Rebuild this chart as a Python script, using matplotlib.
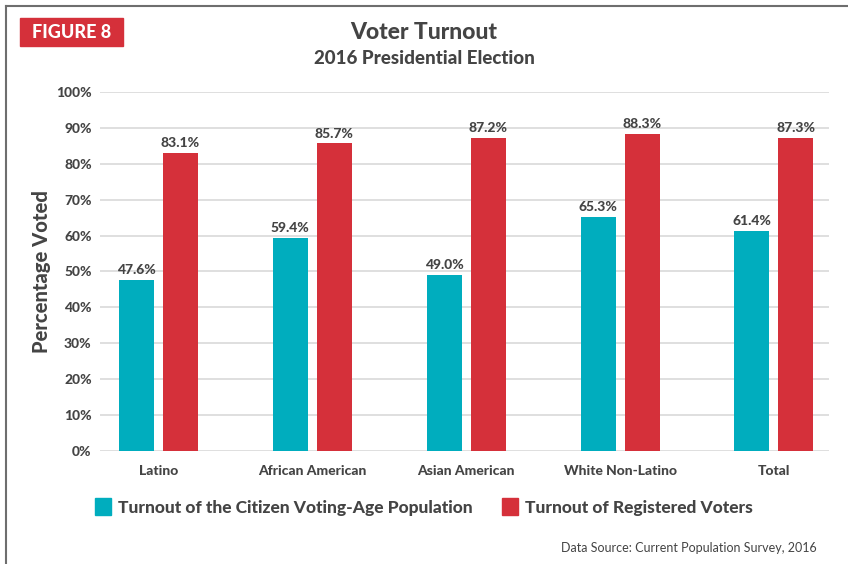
"""
Voter turnout by group, 2016 presidential election
"""

import numpy as np
import matplotlib.pyplot as plt
from matplotlib.patches import Rectangle
from matplotlib.lines import Line2D

# data
groups = ["Latino", "African American", "Asian American", "White Non-Latino", "Total"]
citizen_turnout = [47.6, 59.4, 49.0, 65.3, 61.4]
registered_turnout = [83.1, 85.7, 87.2, 88.3, 87.3]
series_names = ["Turnout of the Citizen Voting-Age Population",
                "Turnout of Registered Voters"]
y_ticks = [0, 10, 20, 30, 40, 50, 60, 70, 80, 90, 100]

TEAL = "#00adbe"
RED = "#d5303a"
TXT = "#444444"
HEAVY = 900

plt.rcParams["font.family"] = ["Lato", "DejaVu Sans"]


def main():
    fig = plt.figure(figsize=(8.48, 5.64), dpi=100)
    ax = fig.add_axes([0.118, 0.2004, 0.860, 0.6366])

    x = np.arange(len(groups))
    w = 0.227
    off = 0.143
    b1 = ax.bar(x - off, citizen_turnout, w, color=TEAL, zorder=3)
    b2 = ax.bar(x + off, registered_turnout, w, color=RED, zorder=3)

    # value labels
    for bars, vals in ((b1, citizen_turnout), (b2, registered_turnout)):
        for b, v in zip(bars, vals):
            ax.text(b.get_x() + b.get_width() / 2, v + 1.0, f"{v:.1f}%",
                    ha="center", va="bottom", fontsize=10,
                    fontweight=HEAVY, color=TXT, zorder=4)

    ax.set_ylim(0, 100)
    ax.set_xlim(-0.38, len(groups) - 1 + 0.36)
    ax.set_yticks(y_ticks)
    ax.set_yticklabels([f"{t}%" for t in y_ticks])
    ax.set_xticks(x)
    ax.set_xticklabels(groups)
    ax.yaxis.grid(True, color="#dcdcdc", linewidth=1.3, zorder=0)
    ax.tick_params(axis="both", length=0, labelsize=10, labelcolor=TXT)
    ax.tick_params(axis="y", pad=6)
    ax.tick_params(axis="x", pad=10)
    for lbl in ax.get_xticklabels() + ax.get_yticklabels():
        lbl.set_fontweight(HEAVY)
    for s in ax.spines.values():
        s.set_visible(False)

    ax.set_ylabel("Percentage Voted", fontsize=14.5, fontweight=HEAVY,
                  color=TXT, labelpad=4)

    # titles
    fig.text(0.5, 0.943, "Voter Turnout", ha="center", va="center",
             fontsize=16.5, fontweight=HEAVY, color=TXT)
    fig.text(0.5, 0.897, "2016 Presidential Election", ha="center",
             va="center", fontsize=13.5, fontweight=HEAVY, color=TXT)

    # figure tag
    fig.patches.append(Rectangle((20 / 848, 1 - 46 / 564), 103 / 848, 28 / 564,
                                 transform=fig.transFigure, color=RED))
    fig.text(71.5 / 848, 1 - 32 / 564, "FIGURE 8", ha="center", va="center",
             fontsize=13, fontweight=HEAVY, color="white")

    # frame lines (top and left)
    fig.add_artist(Line2D([6 / 848, 1], [1 - 6 / 564, 1 - 6 / 564],
                          color="#6e6e6e", linewidth=1.5))
    fig.add_artist(Line2D([6 / 848, 6 / 848], [0, 1 - 6 / 564],
                          color="#6e6e6e", linewidth=1.5))

    # legend
    handles = [Rectangle((0, 0), 1, 1, color=TEAL),
               Rectangle((0, 0), 1, 1, color=RED)]
    leg = fig.legend(handles, series_names, loc="center",
                     bbox_to_anchor=(0.5, 1 - 507 / 564), ncol=2, frameon=False,
                     fontsize=12.5, handlelength=0.9, handleheight=1.1,
                     handletextpad=0.4, columnspacing=1.7)
    for t in leg.get_texts():
        t.set_fontweight(HEAVY)
        t.set_color(TXT)

    fig.text(817 / 848, 1 - 548 / 564, "Data Source: Current Population Survey, 2016",
             ha="right", va="center", fontsize=9, color=TXT)

    fig.savefig("out.png", dpi=100, facecolor="white")
    return 0


if __name__ == '__main__':
    main()
